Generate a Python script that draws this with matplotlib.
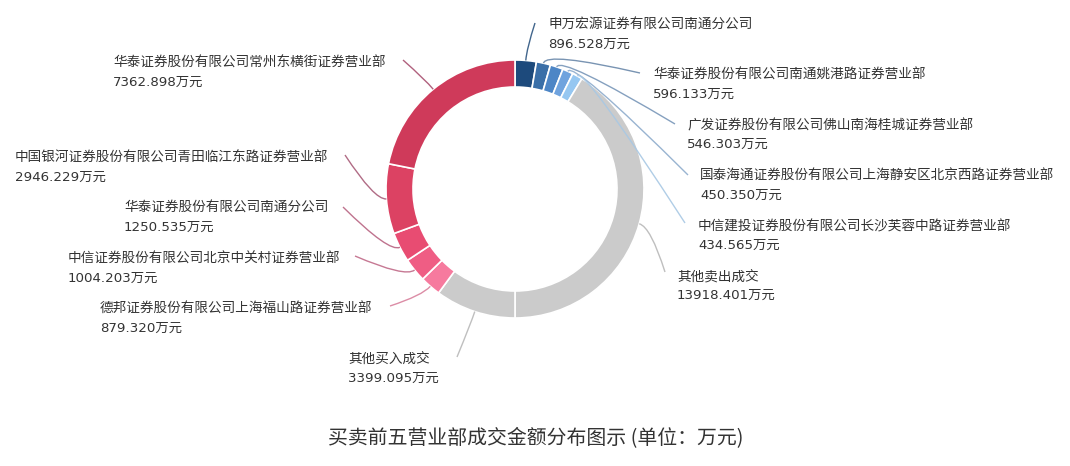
import matplotlib
matplotlib.use("Agg")
import matplotlib.pyplot as plt
from matplotlib.path import Path
from matplotlib.patches import PathPatch
import numpy as np

plt.rcParams['font.family'] = ['Noto Sans CJK SC', 'DejaVu Sans']

# ---- data ----
names = [
    "申万宏源证券有限公司南通分公司",
    "华泰证券股份有限公司南通姚港路证券营业部",
    "广发证券股份有限公司佛山南海桂城证券营业部",
    "国泰海通证券股份有限公司上海静安区北京西路证券营业部",
    "中信建投证券股份有限公司长沙芙蓉中路证券营业部",
    "其他卖出成交",
    "其他买入成交",
    "德邦证券股份有限公司上海福山路证券营业部",
    "中信证券股份有限公司北京中关村证券营业部",
    "华泰证券股份有限公司南通分公司",
    "中国银河证券股份有限公司青田临江东路证券营业部",
    "华泰证券股份有限公司常州东横街证券营业部",
]
values = [896.528, 596.133, 546.303, 450.350, 434.565, 13918.401,
          3399.095, 879.320, 1004.203, 1250.535, 2946.229, 7362.898]
unit = "万元"
title = "买卖前五营业部成交金额分布图示 (单位：万元)"

# ---- styles / layout (pixel coordinates, y from top) ----
colors = ["#1d4a7c", "#3a6fa8", "#4d86c6", "#6fa3de", "#96c7f1",
          "#cbcbcb", "#cbcbcb",
          "#f67a9e", "#ef5d84", "#e84c72", "#dc4263", "#cf3a5a"]
line_colors = ["#2d5580", "#6a88aa", "#7896b8", "#8eaccc", "#a8c8e4",
               "#b8b8b8", "#b8b8b8",
               "#d8809c", "#c06a88", "#b86482", "#a85c78", "#a85070"]
# (line end x, line end y, text left x, name y)
label_layout = [
    (535, 23, 548, 25),
    (640, 73, 653, 75),
    (675, 124, 687, 125),
    (688, 175, 700, 176),
    (685, 223, 698, 226),
    (665, 272, 677, 276),
    (457, 357, 348, 359),
    (390, 306, 100, 309),
    (355, 256, 68, 259),
    (343, 207, 124, 208),
    (345, 155, 15, 158),
    (403, 60, 113, 63),
]

W, H = 1070, 466
def Y(y):
    return H - y

cx, cy = 515, 189
R, ring_w = 129, 27

fig = plt.figure(figsize=(W / 100, H / 100), dpi=100)
ax = fig.add_axes([0, 0, 1, 1])
wedges, _ = ax.pie(values, colors=colors, center=(cx, Y(cy)), radius=R,
                   startangle=90, counterclock=False,
                   wedgeprops=dict(width=ring_w, edgecolor='white', linewidth=1.2))
ax.set_xlim(0, W)
ax.set_ylim(0, H)
ax.set_aspect('equal')
ax.axis('off')

txt_color = "#333333"
for w, name, v, lay, lc in zip(wedges, names, values, label_layout, line_colors):
    mid = np.deg2rad((w.theta1 + w.theta2) / 2)
    x0 = cx + R * np.cos(mid)
    y0 = Y(cy) + R * np.sin(mid)
    ext = 12
    x1 = cx + (R + ext) * np.cos(mid)
    y1 = Y(cy) + (R + ext) * np.sin(mid)
    ex, ey, tx, ty = lay
    path = Path([(x0, y0), (x1, y1), (ex, Y(ey))],
                [Path.MOVETO, Path.CURVE3, Path.CURVE3])
    ax.add_patch(PathPatch(path, facecolor='none', edgecolor=lc, lw=1.0, alpha=0.9))
    ax.text(tx, Y(ty), name, fontsize=9.8, color=txt_color, ha='left', va='center')
    ax.text(tx, Y(ty + 19), f"{v:.3f}{unit}", fontsize=9.6, color=txt_color,
            ha='left', va='center', family=['DejaVu Sans', 'Noto Sans CJK SC'])

ax.text(536, Y(439), title, fontsize=14.3, color="#333333", ha='center', va='center')

fig.savefig("out.png", dpi=100, facecolor='white')
